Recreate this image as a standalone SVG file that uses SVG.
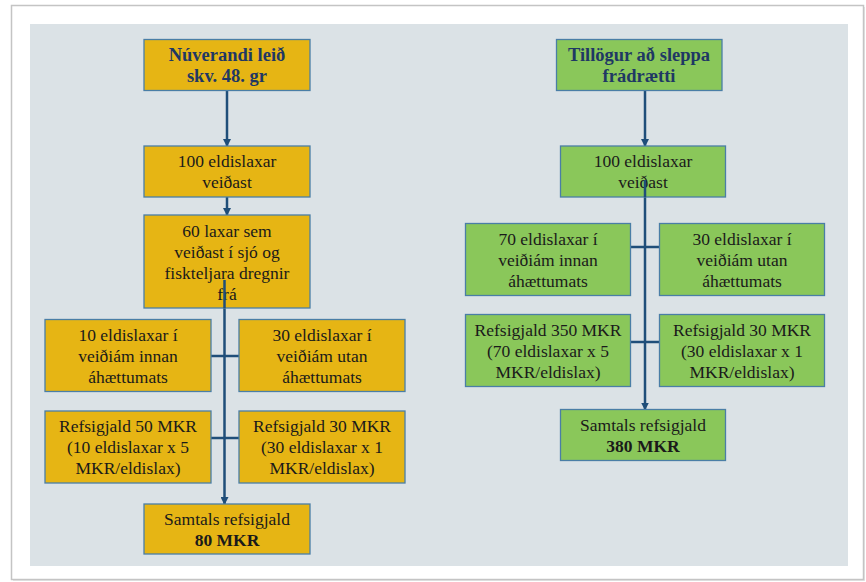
<svg xmlns="http://www.w3.org/2000/svg" width="866" height="582" viewBox="0 0 866 582">
<defs>
<style>
.gold{fill:#E6B514;stroke:#4A7EA6;stroke-width:1.3}
.green{fill:#8AC75A;stroke:#4A7EA6;stroke-width:1.3}
text{font-family:"Liberation Serif","DejaVu Serif",serif;font-size:17.5px;fill:#1a1a1a;text-anchor:middle}
.title{font-weight:bold;fill:#1F3864;font-size:18.5px}
.b{font-weight:bold}
.con{stroke:#1F4E79;stroke-width:2.5;fill:none}
</style>
<marker id="ah" markerWidth="8" markerHeight="8" refX="7" refY="4" orient="auto" markerUnits="userSpaceOnUse">
<path d="M0,0 L8,4 L0,8 z" fill="#1F4E79"/>
</marker>
</defs>
<rect x="0" y="0" width="866" height="582" fill="#ffffff"/>
<rect x="13" y="7" width="852" height="574" fill="#e6e6e6"/>
<rect x="11.5" y="5.5" width="852" height="574" fill="#ffffff" stroke="#c4c4c4" stroke-width="1.5"/>
<rect x="30" y="24" width="818" height="542" fill="#DBE2E6"/>

<g id="connectors">
<line class="con" x1="227" y1="91" x2="227" y2="146" marker-end="url(#ah)"/>
<line class="con" x1="227" y1="197" x2="227" y2="215" marker-end="url(#ah)"/>
<line class="con" x1="224.5" y1="280" x2="224.5" y2="504" marker-end="url(#ah)"/>
<line class="con" x1="211" y1="356" x2="239" y2="356"/>
<line class="con" x1="211" y1="438" x2="239" y2="438"/>
<line class="con" x1="645" y1="91" x2="645" y2="146" marker-end="url(#ah)"/>
<line class="con" x1="645" y1="180" x2="645" y2="409.5" marker-end="url(#ah)"/>
<line class="con" x1="631" y1="247" x2="659" y2="247"/>
<line class="con" x1="631" y1="342" x2="659" y2="342"/>
</g>

<g id="l1"><rect class="gold" x="144" y="39.5" width="166" height="51"/>
<text class="title" x="227" y="61">Núverandi leið</text><text class="title" x="227" y="82">skv. 48. gr</text></g>
<g id="l2"><rect class="gold" x="144" y="146" width="166" height="51"/>
<text x="227" y="167">100 eldislaxar</text><text x="227" y="188">veiðast</text></g>
<g id="l3"><rect class="gold" x="144" y="215" width="166" height="93"/>
<text x="227" y="237">60 laxar sem</text><text x="227" y="258">veiðast í sjó og</text><text x="227" y="279">fiskteljara dregnir</text><text x="227" y="299.5">frá</text></g>
<line class="con" x1="224.5" y1="280" x2="224.5" y2="308"/>
<g id="l4"><rect class="gold" x="45" y="319.5" width="166" height="72"/>
<text x="128" y="340.5">10 eldislaxar í</text><text x="128" y="361.5">veiðiám innan</text><text x="128" y="382.5">áhættumats</text></g>
<g id="l5"><rect class="gold" x="239" y="319.5" width="166" height="72"/>
<text x="322" y="340.5">30 eldislaxar í</text><text x="322" y="361.5">veiðiám utan</text><text x="322" y="382.5">áhættumats</text></g>
<g id="l6"><rect class="gold" x="45" y="411" width="166" height="72"/>
<text x="128" y="432">Refsigjald 50 MKR</text><text x="128" y="453">(10 eldislaxar x 5</text><text x="128" y="474">MKR/eldislax)</text></g>
<g id="l7"><rect class="gold" x="239" y="411" width="166" height="72"/>
<text x="322" y="432">Refsigjald 30 MKR</text><text x="322" y="453">(30 eldislaxar x 1</text><text x="322" y="474">MKR/eldislax)</text></g>
<g id="l8"><rect class="gold" x="144" y="504" width="166" height="50"/>
<text x="227" y="525">Samtals refsigjald</text><text class="b" x="227" y="546">80 MKR</text></g>

<g id="r1"><rect class="green" x="556.5" y="39.5" width="165.5" height="51"/>
<text class="title" x="639" y="61">Tillögur að sleppa</text><text class="title" x="639" y="82">frádrætti</text></g>
<g id="r2"><rect class="green" x="560.5" y="146" width="165" height="51"/>
<text x="643" y="167">100 eldislaxar</text><text x="643" y="188">veiðast</text></g>
<line class="con" x1="645" y1="180" x2="645" y2="197"/>
<g id="r3"><rect class="green" x="465.5" y="223.5" width="165" height="72"/>
<text x="548" y="244.5">70 eldislaxar í</text><text x="548" y="265.5">veiðiám innan</text><text x="548" y="286.5">áhættumats</text></g>
<g id="r4"><rect class="green" x="659.5" y="223.5" width="165" height="72"/>
<text x="742" y="244.5">30 eldislaxar í</text><text x="742" y="265.5">veiðiám utan</text><text x="742" y="286.5">áhættumats</text></g>
<g id="r5"><rect class="green" x="465.5" y="314.5" width="165" height="72"/>
<text x="548" y="335.5">Refsigjald 350 MKR</text><text x="548" y="356.5">(70 eldislaxar x 5</text><text x="548" y="377.5">MKR/eldislax)</text></g>
<g id="r6"><rect class="green" x="659.5" y="314.5" width="165" height="72"/>
<text x="742" y="335.5">Refsigjald 30 MKR</text><text x="742" y="356.5">(30 eldislaxar x 1</text><text x="742" y="377.5">MKR/eldislax)</text></g>
<g id="r7"><rect class="green" x="560.5" y="409.5" width="165" height="51"/>
<text x="643" y="431">Samtals refsigjald</text><text class="b" x="643" y="452">380 MKR</text></g>
</svg>
